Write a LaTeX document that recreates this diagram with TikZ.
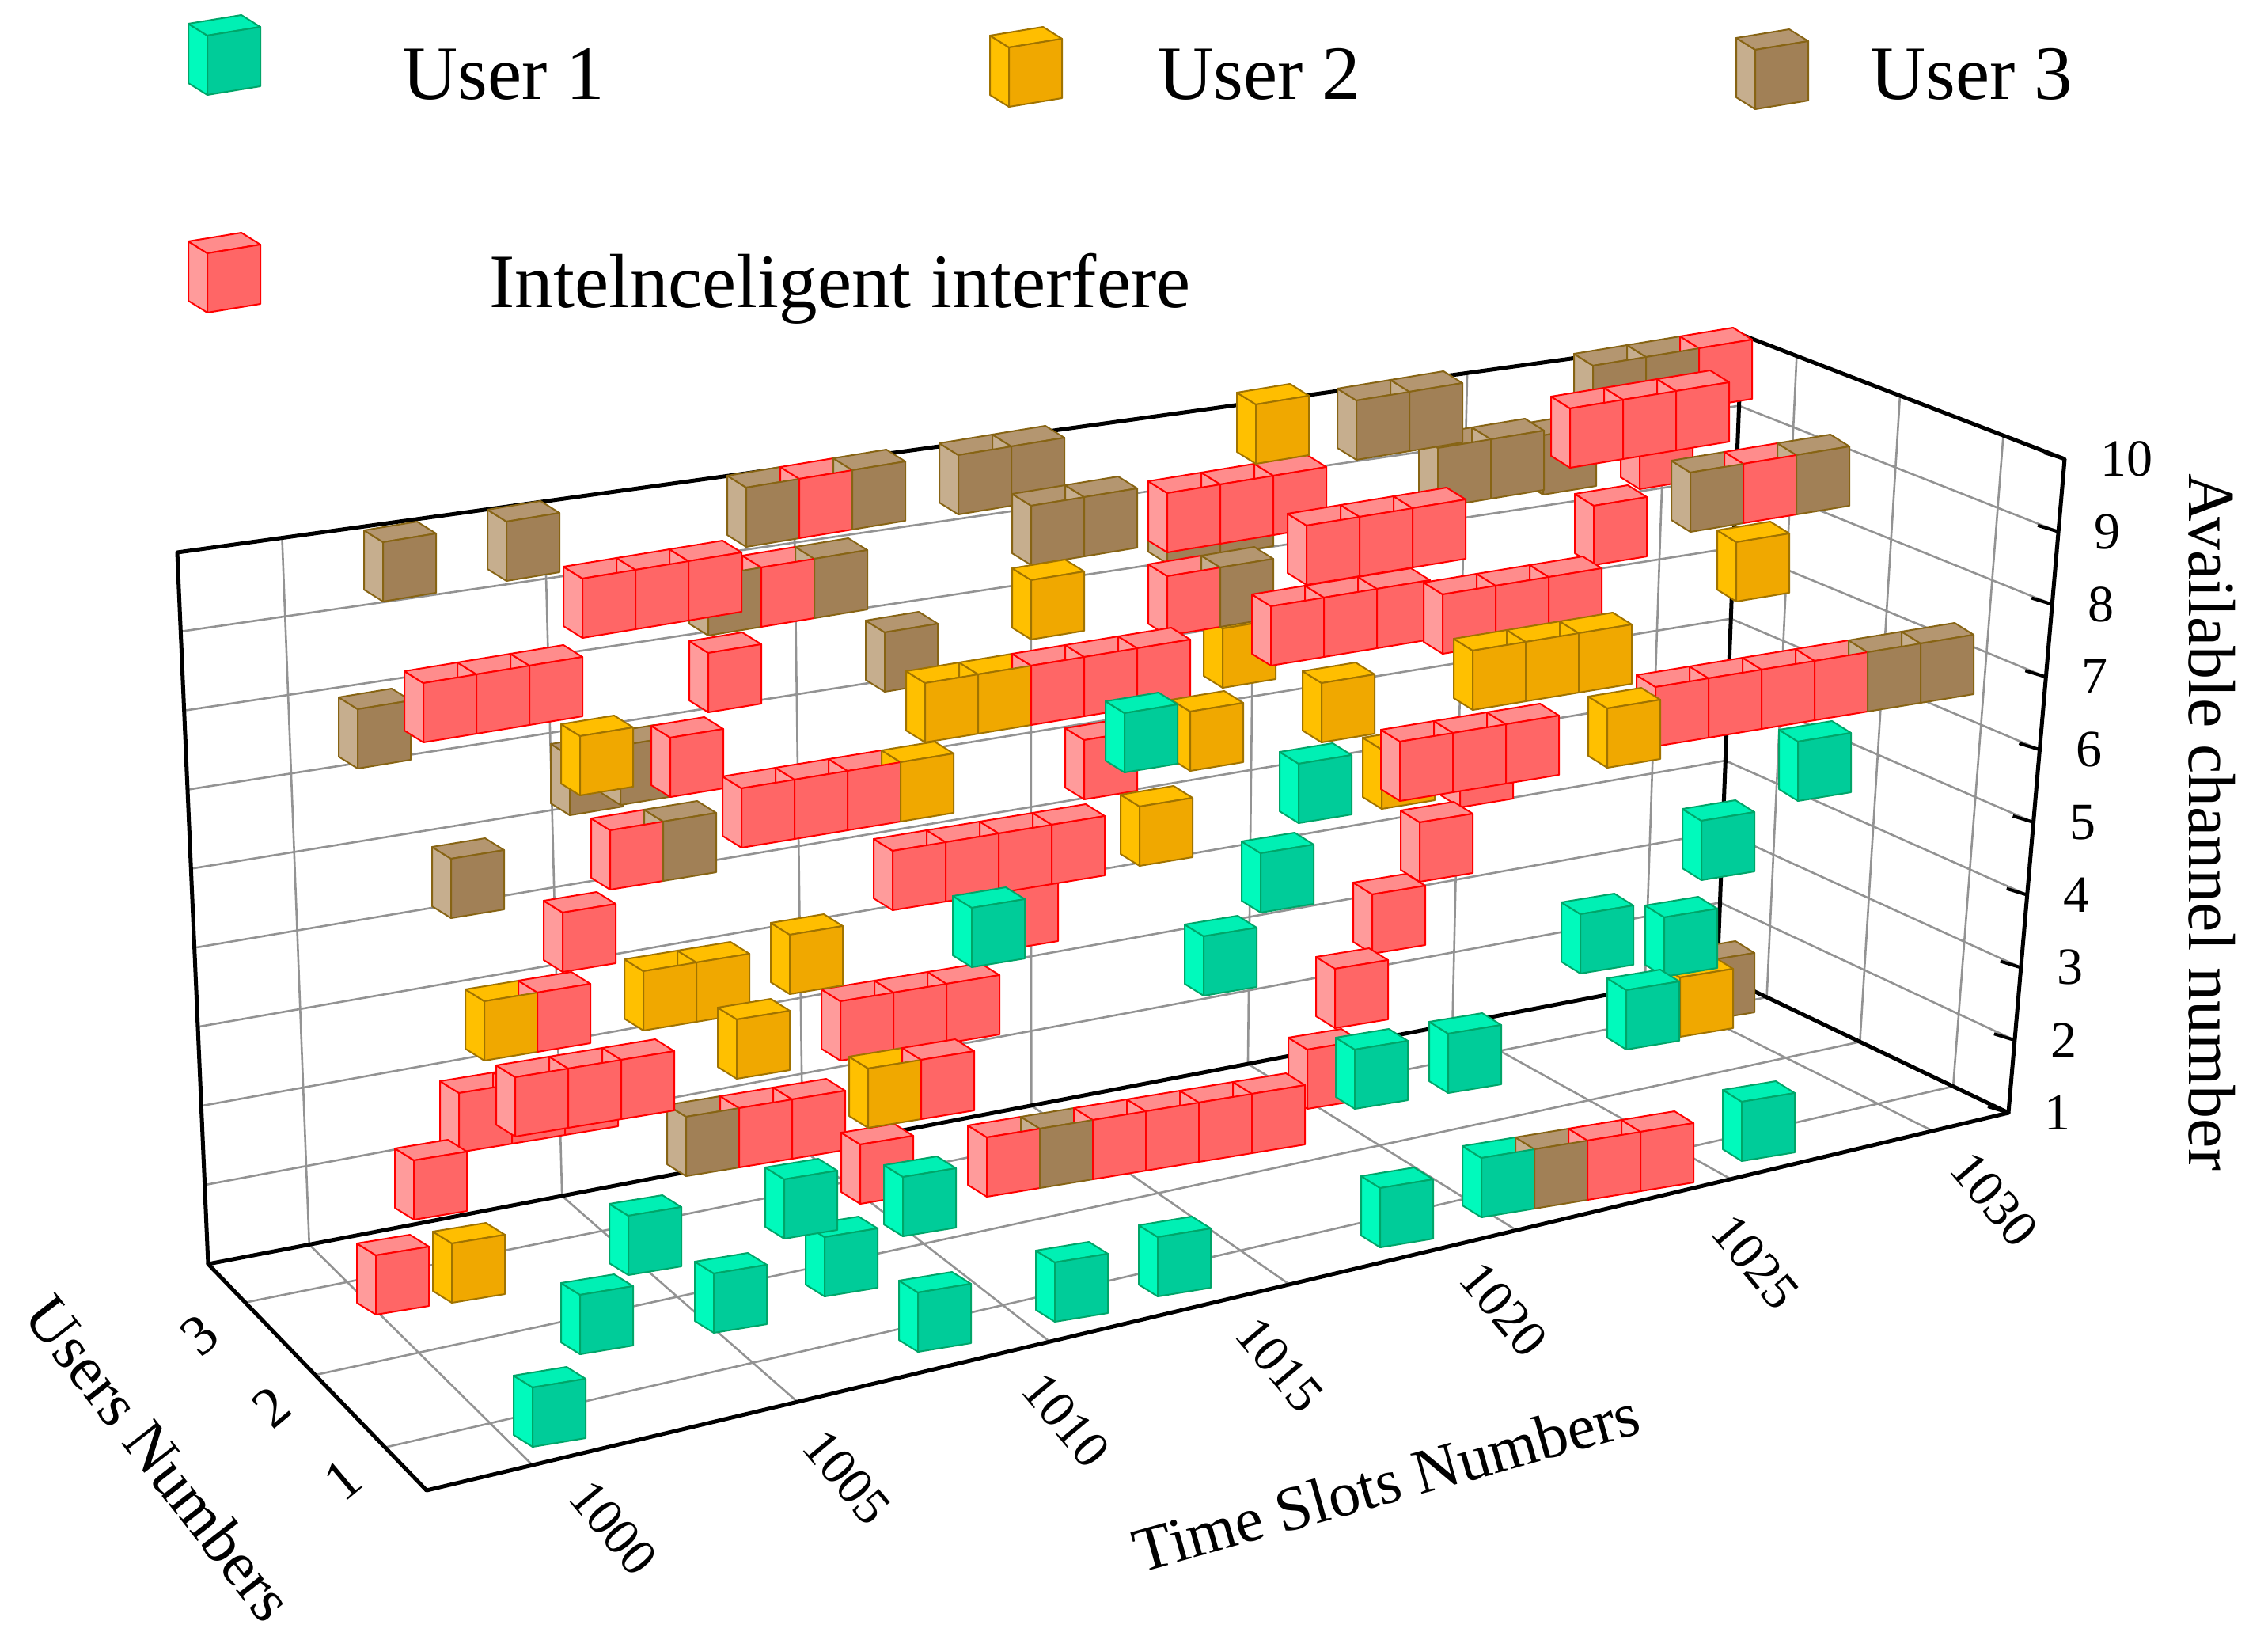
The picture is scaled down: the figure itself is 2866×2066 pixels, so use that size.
\documentclass[tikz,border=0pt]{standalone}
\usepackage{fontspec}
\setmainfont{Liberation Serif}
\usetikzlibrary{calc}

\definecolor{frontg}{RGB}{0,204,153}  \definecolor{sideg}{RGB}{0,250,188}
\definecolor{topg}{RGB}{0,240,180}    \definecolor{lineg}{RGB}{0,165,105}
\definecolor{fronty}{RGB}{240,168,0}  \definecolor{sidey}{RGB}{255,192,0}
\definecolor{topy}{RGB}{255,190,0}    \definecolor{liney}{RGB}{160,115,0}
\definecolor{frontb}{RGB}{161,128,86} \definecolor{sideb}{RGB}{198,174,142}
\definecolor{topb}{RGB}{180,150,112}  \definecolor{lineb}{RGB}{135,100,20}
\definecolor{frontr}{RGB}{255,102,102}\definecolor{sider}{RGB}{255,155,155}
\definecolor{topr}{RGB}{255,140,140}  \definecolor{liner}{RGB}{255,0,0}

\tikzset{
  gridline/.style={draw=gray!85,line width=2.6pt},
  frame/.style={draw=black,line width=5pt,line cap=round,line join=round},
  face/.style={line width=2pt,line join=round},
  legend/.style={font=\fontsize{97}{110}\selectfont,anchor=base west},
  ticklab/.style={font=\fontsize{66}{70}\selectfont},
  axislab/.style={font=\fontsize{80}{90}\selectfont}
}

% point of the plot box: f along time, g towards the back, h upwards
\newcommand\boxpt[4]{%
  \pgfmathsetmacro\px{(1-#4)*((1-#3)*((1-#2)*539+#2*2538)+#3*((1-#2)*263+#2*2170))+#4*((1-#3)*((1-#2)*499+#2*2609)+#3*((1-#2)*224+#2*2201))}%
  \pgfmathsetmacro\py{(1-#4)*((1-#3)*((1-#2)*1883+#2*1406)+#3*((1-#2)*1597+#2*1230))+#4*((1-#3)*((1-#2)*963+#2*580)+#3*((1-#2)*698+#2*423))}%
  \coordinate (#1) at (\px,\py)}

% a row of touching cubes, front lower left corner at (#1,#2)
\newcommand\cuberow[3]{%
  \foreach \c [count=\i from 0] in {#3}{
    \begin{scope}[shift={({#1+67*\i},{#2-11*\i})}]
      \filldraw[face,fill=side\c,draw=line\c] (0,0) -- (0,-75) -- (-24,-90) -- (-24,-15) -- cycle;
      \filldraw[face,fill=top\c,draw=line\c] (0,-75) -- (67,-86) -- (43,-101) -- (-24,-90) -- cycle;
    \end{scope}}
  \foreach \c [count=\i from 0] in {#3}{
    \filldraw[face,fill=front\c,draw=line\c,shift={({#1+67*\i},{#2-11*\i})}]
      (0,0) -- (67,-11) -- (67,-86) -- (0,-75) -- cycle;}}

\begin{document}
\begin{tikzpicture}[x=1pt,y=-1pt]
  \useasboundingbox (0,0) rectangle (2866,2066);

  % legend
  \cuberow{262}{120}{g}
  \cuberow{1275}{135}{y}
  \cuberow{2218}{138}{b}
  \cuberow{262}{395}{r}
  \node[legend] (l1) at (505,125) {User 1};
  \node[legend] (l2) at (1460,125) {User 2};
  \node[legend] (l3) at (2360,125) {User 3};
  \node[legend] (l4) at (615,388) {Intelnceligent interfere};

  % grid
  \foreach \t in {1000,1005,...,1030}{
    \pgfmathsetmacro\k{(\t-1000)/5}
    \pgfmathsetmacro\ff{0.067+0.1715*\k-0.004*\k*\k}
    \boxpt{p}{\ff}{0}{0}; \boxpt{q}{\ff}{1}{0}; \boxpt{r}{\ff}{1}{1};
    \draw[gridline] (p) -- (q) -- (r);
  }
  \foreach \u in {1,2,3}{
    \pgfmathsetmacro\gg{1.15-0.32*\u}
    \boxpt{p}{0}{\gg}{0}; \boxpt{q}{1}{\gg}{0}; \boxpt{r}{1}{\gg}{1};
    \draw[gridline] (p) -- (q) -- (r);
  }
  \foreach \c in {2,...,9}{
    \pgfmathsetmacro\hh{(\c-1)/9}
    \boxpt{p}{0}{1}{\hh}; \boxpt{q}{1}{1}{\hh}; \boxpt{r}{1}{0}{\hh};
    \draw[gridline] (p) -- (q) -- (r);
  }

  % box
  \boxpt{A000}{0}{0}{0}; \boxpt{A100}{1}{0}{0}; \boxpt{A010}{0}{1}{0}; \boxpt{A110}{1}{1}{0};
  \boxpt{A101}{1}{0}{1}; \boxpt{A011}{0}{1}{1}; \boxpt{A111}{1}{1}{1};
  \draw[frame] (A110) -- (A010) -- (A011) -- (A111) -- (A110) -- (A100) -- (A101) -- (A111);
  \draw[frame] (A010) -- (A000) -- (A100);

  % channel ticks and labels
  \foreach \c in {1,...,10}{
    \pgfmathsetmacro\hh{(\c-1)/9}
    \boxpt{e}{1}{0}{\hh};
    \draw[draw=black,line width=4pt] (e) -- ++(-26,-8);
    \node[ticklab,anchor=west] (ch\c) at ($(e)+(42,0)$) {\c};
  }
  % time labels
  \foreach \t/\x/\y in {1000/775/1930,1005/1070/1866,1010/1347/1794,1015/1617/1724,
                        1020/1900/1654,1025/2218/1594,1030/2520/1515}{
    \node[ticklab,rotate=-50] (t\t) at (\x,\y) {\t};
  }
  % user labels
  \foreach \u/\x/\y in {3/252/1687,2/343/1778,1/433/1870}{
    \node[ticklab,font=\fontsize{72}{74}\selectfont,rotate=40] (u\u) at (\x,\y) {\u};
  }
  \node[axislab,rotate=15.6] (tx) at (1752,1872) {Time Slots Numbers};
  \node[axislab,rotate=-52] (ux) at (202,1842) {Users Numbers};
  \node[axislab,font=\fontsize{84}{90}\selectfont,rotate=-90] (cx) at (2795,1039) {Available channel number};

  % cubes partly hidden
  \cuberow{720}{1030}{b}
  \cuberow{580}{1456}{r,r,r}
  \cuberow{1475}{712}{b,b}
  \cuberow{1270}{1200}{r}
  \cuberow{1370}{1010}{r}
  \cuberow{1746}{1022}{y}
  \cuberow{1545}{869}{y}
  \cuberow{1845}{1020}{r}
  \cuberow{2150}{1290}{b}
  \cuberow{1652}{1401}{r}
  \cuberow{2072}{618}{r}
  \cuberow{1950}{625}{b}
  % user 3
  \cuberow{484}{760}{b}
  \cuberow{640}{734}{b}
  \cuberow{943}{691}{b,r,b}
  \cuberow{895}{803}{b,r,b}
  \cuberow{452}{971}{b}
  \cuberow{1118}{874}{b}
  \cuberow{784}{1017}{b}
  \cuberow{570}{1160}{b}
  \cuberow{867}{1486}{b,r,r}
  \cuberow{1247}{1512}{r,b,r,r,r,r}
  \cuberow{2013}{537}{b,b,r}
  \cuberow{1817}{641}{b,b}
  \cuberow{2136}{672}{b,r,b}
  \cuberow{1211}{650}{b,b}
  \cuberow{1714}{581}{b,b}
  \cuberow{1303}{714}{b,b}
  \cuberow{1475}{803}{r,b}
  % interferer
  \cuberow{736}{806}{r,r,r}
  \cuberow{535}{938}{r,r,r}
  \cuberow{895}{900}{r}
  \cuberow{847}{1007}{r}
  \cuberow{937}{1071}{r,r,r,y}
  \cuberow{771}{1124}{r,b}
  \cuberow{711}{1228}{r}
  \cuberow{651}{1436}{r,r,r}
  \cuberow{523}{1541}{r}
  \cuberow{475}{1661}{r}
  \cuberow{1062}{1340}{r,r,r}
  \cuberow{1087}{1521}{r}
  \cuberow{1984}{591}{r,r,r}
  \cuberow{2014}{714}{r}
  \cuberow{1475}{698}{r,r,r}
  \cuberow{1651}{739}{r,r,r}
  \cuberow{1606}{841}{r,r,r}
  \cuberow{1823}{826}{r,r,r}
  \cuberow{1769}{1012}{r,r,r}
  \cuberow{2092}{943}{r,r,r,r,b,b}
  \cuberow{1128}{1150}{r,r,r,r}
  \cuberow{1794}{1114}{r}
  \cuberow{1734}{1205}{r}
  \cuberow{1687}{1299}{r}
  % user 2
  \cuberow{733}{1005}{y}
  \cuberow{1587}{586}{y}
  \cuberow{2194}{760}{y}
  \cuberow{1303}{808}{y}
  \cuberow{1169}{938}{y,y,r,r,r}
  \cuberow{1861}{897}{y,y,y}
  \cuberow{2031}{970}{y}
  \cuberow{1504}{974}{y}
  \cuberow{1670}{938}{y}
  \cuberow{1440}{1094}{y}
  \cuberow{998}{1256}{y}
  \cuberow{813}{1302}{y,y}
  \cuberow{931}{1363}{y}
  \cuberow{612}{1340}{y,r}
  \cuberow{571}{1646}{y}
  \cuberow{1097}{1425}{y,r}
  \cuberow{2123}{1310}{y}
  % user 1
  \foreach \x/\y in {1421/976,1641/1040,2272/1012,2150/1112,1593/1153,1228/1222,
                     1521/1258,1712/1401,1830/1381,1997/1230,2103/1234,2055/1326,
                     2201/1467,1744/1576,1463/1638,1333/1670,1160/1708,1141/1562,
                     1042/1638,991/1565,794/1611,733/1711,902/1684,673/1828}{
    \cuberow{\x}{\y}{g}
  }
  \cuberow{1872}{1538}{g,b,r,r}
\end{tikzpicture}
\end{document}
